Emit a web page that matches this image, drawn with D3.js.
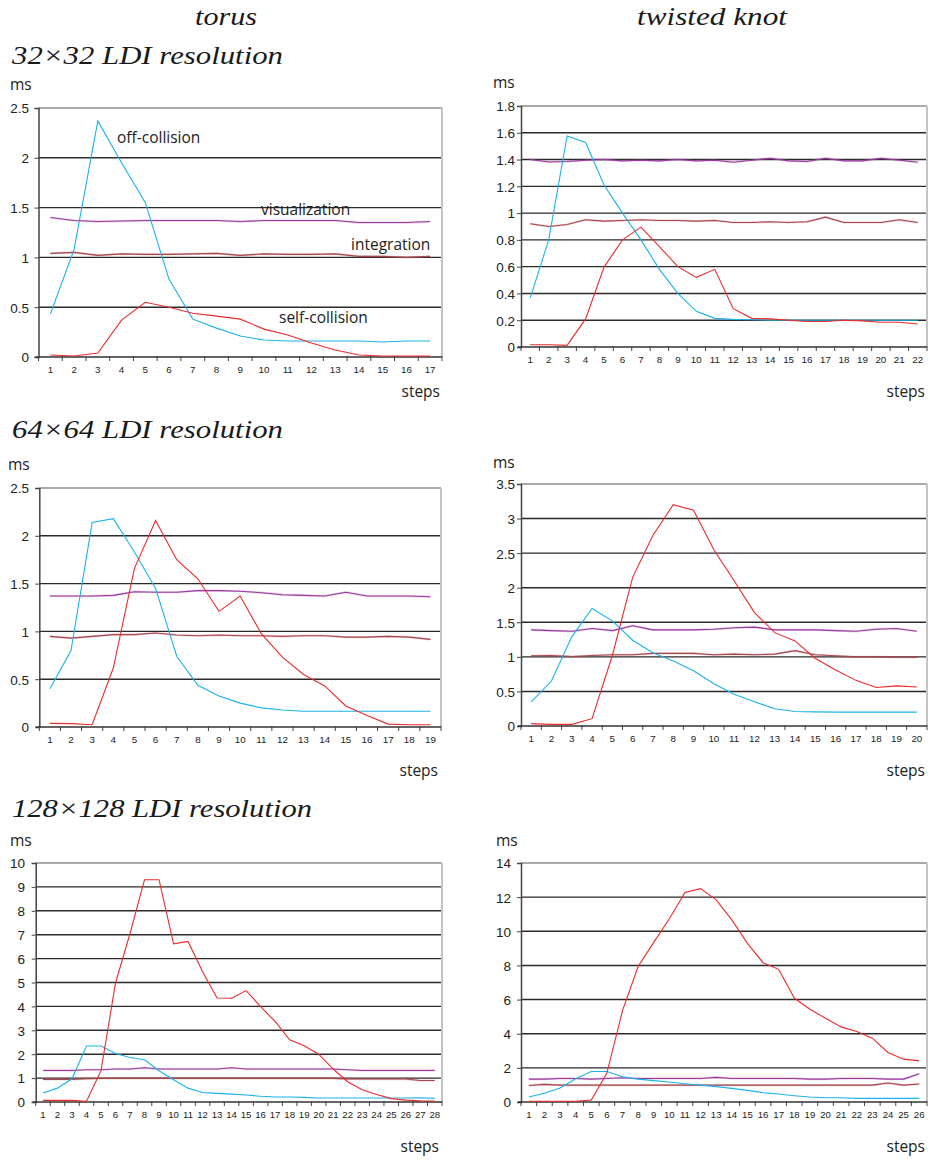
<!DOCTYPE html>
<html>
<head>
<meta charset="utf-8">
<script src="https://cdn.jsdelivr.net/npm/d3@7"></script>
<style>
  html, body { margin: 0; padding: 0; background: #fff; }
  svg { display: block; }
</style>
</head>
<body>
<svg id="chart" width="930" height="1162"></svg>
<script>
// ---------------- DATA ----------------
const columnTitles = ["torus", "twisted knot"];
const rowTitles = ["32×32 LDI resolution", "64×64 LDI resolution", "128×128 LDI resolution"];
const seriesNames = ["visualization", "integration", "off-collision", "self-collision"];

// torus, 32x32
const torus32_off  = [0.43,1.08,2.37,1.95,1.55,0.78,0.38,0.29,0.21,0.17,0.16,0.16,0.16,0.16,0.15,0.16,0.16];
const torus32_self = [0.02,0.01,0.04,0.37,0.55,0.50,0.44,0.41,0.38,0.28,0.22,0.14,0.07,0.02,0.01,0.01,0.01];
const torus32_vis  = [1.40,1.37,1.36,1.365,1.37,1.37,1.37,1.37,1.36,1.37,1.37,1.37,1.37,1.35,1.35,1.35,1.36];
const torus32_int  = [1.04,1.05,1.02,1.035,1.03,1.03,1.035,1.04,1.02,1.035,1.03,1.03,1.035,1.01,1.01,1.0,1.01];
const torus32_yTicks = [0,0.5,1,1.5,2,2.5];

// twisted knot, 32x32
const knot32_off  = [0.365,0.80,1.576,1.527,1.21,1.0,0.80,0.58,0.40,0.266,0.214,0.206,0.204,0.2,0.2,0.2,0.2,0.2,0.2,0.2,0.2,0.2];
const knot32_self = [0.017,0.017,0.012,0.21,0.597,0.80,0.895,0.75,0.60,0.52,0.58,0.286,0.214,0.21,0.2,0.19,0.19,0.2,0.195,0.185,0.185,0.172];
const knot32_vis  = [1.40,1.382,1.385,1.395,1.40,1.39,1.395,1.39,1.40,1.39,1.395,1.38,1.395,1.41,1.39,1.385,1.41,1.39,1.39,1.41,1.395,1.38];
const knot32_int  = [0.92,0.90,0.915,0.95,0.94,0.945,0.95,0.945,0.945,0.94,0.945,0.93,0.93,0.935,0.93,0.935,0.97,0.93,0.93,0.93,0.95,0.93];
const knot32_yTicks = [0,0.2,0.4,0.6,0.8,1,1.2,1.4,1.6,1.8];

// torus, 64x64
const torus64_off  = [0.40,0.80,2.14,2.18,1.83,1.45,0.74,0.436,0.324,0.25,0.20,0.178,0.164,0.164,0.164,0.164,0.164,0.164,0.164];
const torus64_self = [0.038,0.035,0.024,0.617,1.66,2.16,1.75,1.55,1.21,1.37,0.976,0.73,0.55,0.43,0.22,0.12,0.03,0.024,0.024];
const torus64_vis  = [1.37,1.37,1.37,1.377,1.415,1.41,1.41,1.426,1.426,1.42,1.405,1.384,1.377,1.37,1.41,1.37,1.37,1.37,1.363];
const torus64_int  = [0.948,0.93,0.948,0.966,0.966,0.983,0.962,0.955,0.962,0.955,0.955,0.948,0.955,0.955,0.94,0.94,0.948,0.94,0.917];
const torus64_yTicks = [0,0.5,1,1.5,2,2.5];

// twisted knot, 64x64
const knot64_off  = [0.35,0.65,1.29,1.70,1.52,1.24,1.06,0.94,0.80,0.61,0.46,0.35,0.25,0.21,0.205,0.20,0.20,0.20,0.20,0.20];
const knot64_self = [0.034,0.024,0.024,0.106,1.02,2.15,2.76,3.20,3.12,2.55,2.10,1.64,1.35,1.23,0.976,0.81,0.66,0.556,0.58,0.565];
const knot64_vis  = [1.39,1.38,1.37,1.41,1.38,1.45,1.39,1.39,1.39,1.40,1.42,1.43,1.39,1.39,1.39,1.38,1.37,1.40,1.41,1.37];
const knot64_int  = [1.015,1.02,1.005,1.02,1.03,1.03,1.05,1.05,1.05,1.03,1.04,1.03,1.04,1.09,1.03,1.015,1.0,1.0,0.995,0.995];
const knot64_yTicks = [0,0.5,1,1.5,2,2.5,3,3.5];

// torus, 128x128
const torus128_off  = [0.375,0.58,0.97,2.34,2.34,2.03,1.86,1.77,1.31,0.93,0.58,0.40,0.36,0.33,0.29,0.24,0.21,0.21,0.195,0.17,0.17,0.17,0.17,0.17,0.17,0.17,0.18,0.15];
const torus128_self = [0.07,0.07,0.07,0.03,1.31,4.98,7.05,9.30,9.30,6.62,6.72,5.45,4.35,4.34,4.66,3.99,3.37,2.60,2.35,2.0,1.38,0.85,0.51,0.31,0.14,0.08,0.05,0.04];
const torus128_vis  = [1.32,1.32,1.32,1.35,1.35,1.38,1.38,1.43,1.38,1.38,1.38,1.38,1.38,1.43,1.38,1.38,1.38,1.38,1.38,1.38,1.38,1.35,1.32,1.32,1.32,1.32,1.32,1.32];
const torus128_int  = [0.945,0.945,0.945,0.97,0.99,0.99,0.99,0.99,0.99,0.99,0.99,0.99,0.99,0.99,0.99,0.99,0.99,0.99,0.99,0.99,0.99,0.96,0.96,0.96,0.96,0.96,0.90,0.90];
const torus128_yTicks = [0,1,2,3,4,5,6,7,8,9,10];

// twisted knot, 128x128
const knot128_off  = [0.29,0.51,0.82,1.36,1.79,1.79,1.48,1.34,1.25,1.17,1.07,0.99,0.90,0.80,0.68,0.55,0.47,0.37,0.29,0.25,0.25,0.21,0.21,0.21,0.21,0.21];
const knot128_self = [0.04,0.04,0.04,0.04,0.12,1.69,5.35,7.94,9.35,10.73,12.27,12.50,11.84,10.67,9.29,8.16,7.77,6.09,5.43,4.91,4.40,4.13,3.74,2.90,2.51,2.41];
const knot128_vis  = [1.34,1.34,1.38,1.38,1.34,1.38,1.42,1.38,1.38,1.38,1.38,1.38,1.44,1.38,1.38,1.38,1.38,1.38,1.34,1.34,1.38,1.38,1.38,1.34,1.34,1.65];
const knot128_int  = [0.97,1.03,0.99,0.99,0.99,0.99,0.99,0.99,0.99,0.99,0.99,0.99,0.99,0.99,0.99,0.99,0.99,0.99,0.99,0.99,0.99,0.99,0.99,1.11,0.99,1.05];
const knot128_yTicks = [0,2,4,6,8,10,12,14];

// ---------------- STYLE / LAYOUT ----------------
const colors = {
  "visualization": "#9a3aa0",
  "integration": "#a8464c",
  "off-collision": "#1cb2ec",
  "self-collision": "#ee2a2a"
};
const SANS = "'Open Sans', 'Liberation Sans', sans-serif";
const TICKFONT = "'Liberation Sans', Arial, sans-serif";
const SERIF = "'Liberation Serif', 'DejaVu Serif', serif";

const panels = [
  { series: [torus32_vis, torus32_int, torus32_off, torus32_self], yTicks: torus32_yTicks,
    L: 38.5, R: 442, T: 108, B: 357, msX: 10, msY: 90, tickR: 29, stepsR: 440, stepsY: 397, annotate: true },
  { series: [knot32_vis, knot32_int, knot32_off, knot32_self], yTicks: knot32_yTicks,
    L: 521, R: 927, T: 106, B: 347, msX: 493, msY: 88, tickR: 515, stepsR: 925, stepsY: 397 },
  { series: [torus64_vis, torus64_int, torus64_off, torus64_self], yTicks: torus64_yTicks,
    L: 39.3, R: 441, T: 488, B: 727, msX: 8, msY: 470, tickR: 29, stepsR: 438, stepsY: 776 },
  { series: [knot64_vis, knot64_int, knot64_off, knot64_self], yTicks: knot64_yTicks,
    L: 521, R: 927, T: 484, B: 726, msX: 493, msY: 468, tickR: 515, stepsR: 925, stepsY: 776 },
  { series: [torus128_vis, torus128_int, torus128_off, torus128_self], yTicks: torus128_yTicks,
    L: 35.7, R: 442, T: 863, B: 1102, msX: 10, msY: 846, tickR: 25, stepsR: 439, stepsY: 1152 },
  { series: [knot128_vis, knot128_int, knot128_off, knot128_self], yTicks: knot128_yTicks,
    L: 521, R: 927, T: 863, B: 1102, msX: 496, msY: 846, tickR: 511, stepsR: 925, stepsY: 1152 }
];

const svg = d3.select("#chart");

// Titles
const colTitlePos = [{x: 226, w: 62}, {x: 712, w: 150}];
columnTitles.forEach((t, i) => {
  svg.append("text").attr("x", colTitlePos[i].x).attr("y", 25)
    .attr("text-anchor", "middle")
    .attr("font-family", SERIF).attr("font-style", "italic").attr("font-size", 26)
    .attr("textLength", colTitlePos[i].w).attr("lengthAdjust", "spacingAndGlyphs")
    .attr("fill", "#1a1a1a").text(t);
});
const rowTitlePos = [{y: 64, w: 271}, {y: 438, w: 271}, {y: 817, w: 300}];
rowTitles.forEach((t, i) => {
  svg.append("text").attr("x", 12).attr("y", rowTitlePos[i].y)
    .attr("font-family", SERIF).attr("font-style", "italic").attr("font-size", 26)
    .attr("textLength", rowTitlePos[i].w).attr("lengthAdjust", "spacingAndGlyphs")
    .attr("fill", "#1a1a1a").text(t);
});

panels.forEach(p => {
  const n = p.series[0].length;
  const cats = d3.range(1, n + 1);
  const x = d3.scalePoint().domain(cats).range([p.L, p.R]).padding(0.5);
  const yMax = p.yTicks[p.yTicks.length - 1];
  const y = d3.scaleLinear().domain([0, yMax]).range([p.B, p.T]);
  const g = svg.append("g");

  // gridlines
  g.selectAll(".grid").data(p.yTicks.filter(v => v > 0 && v < yMax)).join("line")
    .attr("x1", p.L).attr("x2", p.R)
    .attr("y1", d => y(d)).attr("y2", d => y(d))
    .attr("stroke", "#2a2a2a").attr("stroke-width", 1.4);
  // top frame
  g.append("line").attr("x1", p.L).attr("x2", p.R).attr("y1", y(yMax)).attr("y2", y(yMax))
    .attr("stroke", "#8c8c8c").attr("stroke-width", 1.6);
  // right frame
  g.append("line").attr("x1", p.R).attr("x2", p.R).attr("y1", y(yMax)).attr("y2", p.B)
    .attr("stroke", "#c4c4c4").attr("stroke-width", 2);

  // y axis
  const yAxis = d3.axisLeft(y).tickValues(p.yTicks).tickSize(4).tickFormat(d => String(d));
  const ya = g.append("g").attr("transform", `translate(${p.L},0)`).call(yAxis);
  ya.select(".domain").attr("stroke", "#444").attr("stroke-width", 1.5);
  ya.selectAll(".tick line").attr("stroke", "#444");
  ya.selectAll(".tick text").attr("font-family", TICKFONT).attr("font-size", 13.5)
    .attr("fill", "#222").attr("x", -(p.L - p.tickR)).attr("dy", "0.36em");

  // x axis (ticks at category boundaries)
  const step = x.step();
  const bounds = d3.range(0, n + 1).map(i => p.L + i * step);
  g.append("line").attr("x1", p.L - 3).attr("x2", p.R).attr("y1", p.B).attr("y2", p.B)
    .attr("stroke", "#333").attr("stroke-width", 1.6);
  g.selectAll(".xt").data(bounds).join("line")
    .attr("x1", d => d).attr("x2", d => d).attr("y1", p.B - 1).attr("y2", p.B + 4)
    .attr("stroke", "#444").attr("stroke-width", 1);
  g.selectAll(".xl").data(cats).join("text")
    .attr("x", d => x(d)).attr("y", p.B + 15.5).attr("text-anchor", "middle")
    .attr("font-family", TICKFONT).attr("font-size", n > 25 ? 9.6 : 9.8).attr("fill", "#222")
    .text(d => d);

  // unit labels
  g.append("text").attr("x", p.msX).attr("y", p.msY)
    .attr("font-family", SANS).attr("font-size", 15.5).attr("fill", "#222").text("ms");
  g.append("text").attr("x", p.stepsR).attr("y", p.stepsY).attr("text-anchor", "end")
    .attr("font-family", SANS).attr("font-size", 15.5).attr("fill", "#222").text("steps");

  // series lines
  const line = d3.line().x((d, i) => x(cats[i])).y(d => y(d));
  p.series.forEach((s, k) => {
    const name = seriesNames[k];
    if (k < 2) {
      g.append("path").datum(s).attr("d", line).attr("fill", "none")
        .attr("stroke", colors[name]).attr("stroke-opacity", 0.25).attr("stroke-width", 2.2);
    }
    g.append("path").datum(s).attr("d", line).attr("fill", "none")
      .attr("stroke", colors[name]).attr("stroke-width", 1.1);
  });

  if (p.annotate) {
    const ann = [
      {t: "off-collision", x: 117, y: 143},
      {t: "visualization", x: 261, y: 215},
      {t: "integration", x: 351, y: 250},
      {t: "self-collision", x: 279, y: 323}
    ];
    g.selectAll(".ann").data(ann).join("text")
      .attr("x", d => d.x).attr("y", d => d.y)
      .attr("font-family", SANS).attr("font-size", 15.5).attr("fill", "#222")
      .text(d => d.t);
  }
});
</script>
</body>
</html>
